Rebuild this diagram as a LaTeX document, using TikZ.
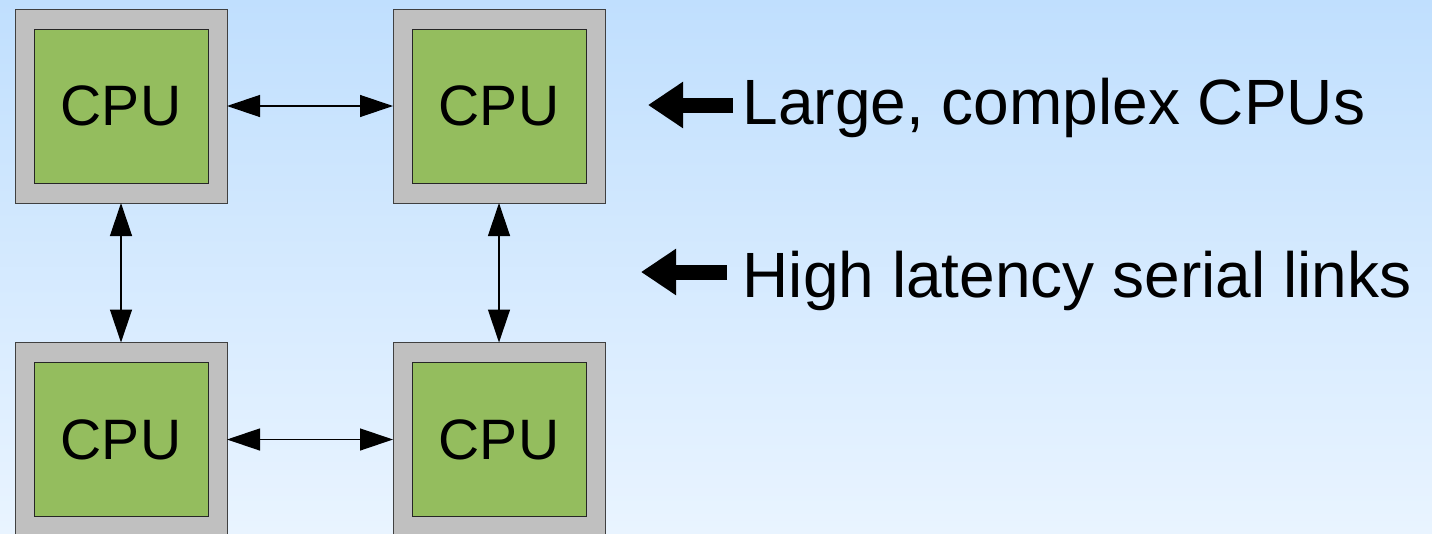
\documentclass[tikz,border=0pt]{standalone}
\usepackage{fontspec}
\setmainfont{Liberation Sans}
\usetikzlibrary{arrows.meta}
\definecolor{bgtop}{RGB}{192,223,254}
\definecolor{bgbot}{RGB}{233,244,255}
\definecolor{chipgray}{RGB}{192,192,192}
\definecolor{cpugreen}{RGB}{148,189,94}

\begin{document}
\begin{tikzpicture}[x=1pt, y=-1pt,
	chip/.style={rectangle, draw=black!75, fill=chipgray, minimum width=212pt, minimum height=194pt, inner sep=0pt, outer sep=0pt, line width=1pt},
	core/.style={rectangle, draw=black!85, fill=cpugreen, minimum width=174pt, minimum height=154pt, inner sep=0pt, line width=1pt, font=\fontsize{57}{68}\selectfont},
	link/.style={line width=1.3pt, {Triangle[length=33pt, width=22pt]}-{Triangle[length=33pt, width=22pt]}},
	pointer/.style={line width=15pt, -{Triangle[length=35pt, width=44pt]}},
	note/.style={anchor=base west, inner xsep=9.5pt, inner ysep=0pt, font=\fontsize{64}{76}\selectfont}]
	\shade[top color=bgtop, bottom color=bgbot] (0,0) rectangle (1432,533);
	\useasboundingbox (0,0) rectangle (1432,533);

	\node[chip] (tl) at (121, 106) {};
	\node[chip] (tr) at (499, 106) {};
	\node[chip] (bl) at (121, 439.5) {};
	\node[chip] (br) at (499, 439.5) {};
	\node[core] (tlcpu) at (tl) {CPU};
	\node[core] (trcpu) at (tr) {CPU};
	\node[core] (blcpu) at (bl) {CPU};
	\node[core] (brcpu) at (br) {CPU};

	\draw[link] (tl) -- (tr);
	\draw[link] (bl) -- (br);
	\draw[link] (tl) -- (bl);
	\draw[link] (tr) -- (br);

	\node[note] (big) at (733, 124) {Large, complex CPUs};
	\node[note] (slow) at (733, 297) {High latency serial links};
	\coordinate (bigtip) at (648, 105);
	\coordinate (slowtip) at (641, 272);
	\draw[pointer] (bigtip -| big.west) -- (bigtip);
	\draw[pointer, shorten <=6pt] (slowtip -| slow.west) -- (slowtip);
\end{tikzpicture}
\end{document}
